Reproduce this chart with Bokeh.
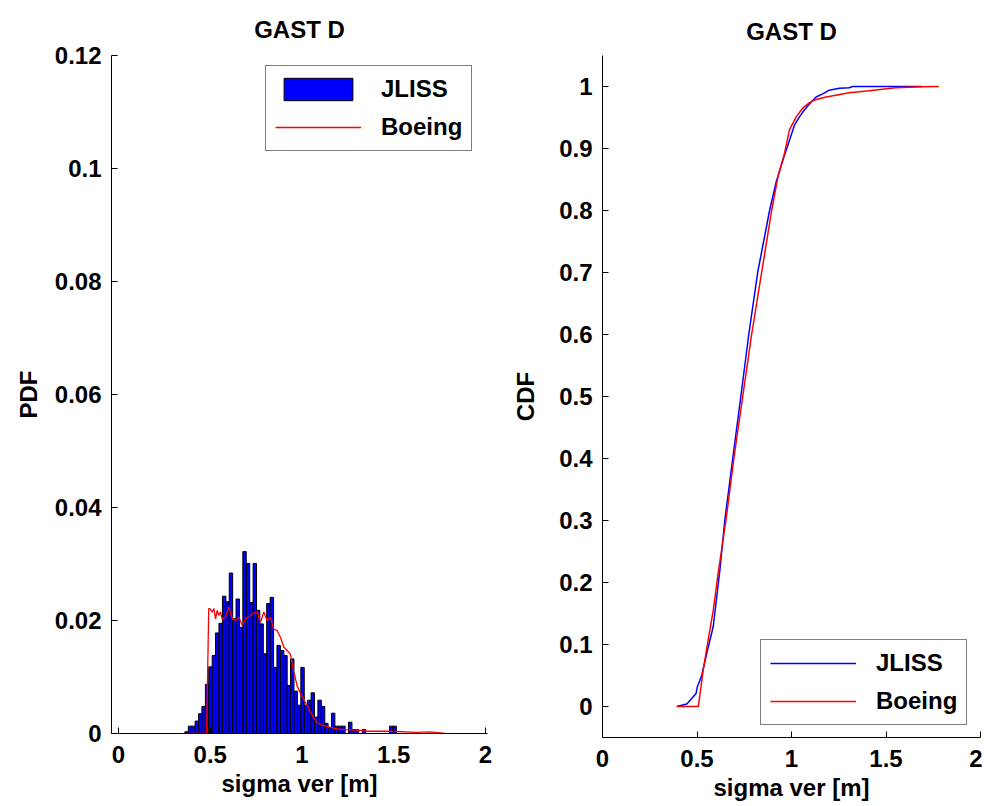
from bokeh.plotting import figure
from bokeh.models import Range1d, FixedTicker, Legend, LegendItem
from bokeh.layouts import row
from bokeh.embed import file_html
from bokeh.resources import INLINE

# ---------------- data ----------------
title_text = "GAST D"
x_label = "sigma ver [m]"

# left panel: histogram (JLISS) and PDF line (Boeing)
bin_width = 0.0186
bin_centers = [0.371, 0.390, 0.408, 0.427, 0.446, 0.464, 0.483, 0.501, 0.520, 0.538,
               0.557, 0.576, 0.594, 0.613, 0.631, 0.650, 0.669, 0.687, 0.706, 0.724,
               0.743, 0.761, 0.780, 0.799, 0.817, 0.836, 0.854, 0.873, 0.892, 0.910,
               0.929, 0.947, 0.966, 0.985, 1.003, 1.022, 1.040, 1.059, 1.077, 1.096,
               1.115, 1.133, 1.152, 1.170, 1.189, 1.207, 1.226, 1.245, 1.263, 1.282,
               1.300, 1.319, 1.338, 1.356, 1.375, 1.393, 1.412, 1.431, 1.449, 1.468,
               1.486, 1.505]
jliss_pdf = [0.0003, 0.0013, 0.0013, 0.0022, 0.0035, 0.0048, 0.0087, 0.0118, 0.0138, 0.0178,
             0.0195, 0.0243, 0.0233, 0.0284, 0.0203, 0.0238, 0.0188, 0.0322, 0.0301, 0.0232,
             0.0301, 0.0218, 0.0194, 0.0141, 0.0230, 0.0241, 0.0117, 0.0156, 0.0147, 0.0138,
             0.0085, 0.0132, 0.0075, 0.0050, 0.0117, 0.0050, 0.0059, 0.0072, 0.0029, 0.0059,
             0.0048, 0.0018, 0.0010, 0.0036, 0.0013, 0.0013, 0.0013, 0.0, 0.0020, 0.0007,
             0.0007, 0.0, 0.0007, 0.0, 0.0, 0.0, 0.0, 0.0, 0.0, 0.0,
             0.0013, 0.0013]

boeing_pdf_x = [0.365, 0.480, 0.492, 0.498, 0.511, 0.520, 0.529, 0.538, 0.547, 0.556,
                0.565, 0.583, 0.601, 0.620, 0.638, 0.656, 0.674, 0.692, 0.710, 0.729,
                0.756, 0.774, 0.792, 0.810, 0.828, 0.846, 0.865, 0.883, 0.901, 0.919,
                0.937, 0.955, 0.974, 0.992, 1.010, 1.028, 1.046, 1.064, 1.083, 1.119,
                1.155, 1.192, 1.228, 1.301, 1.355, 1.482, 1.628, 1.700, 1.780]
boeing_pdf_y = [0.0, 0.0, 0.0221, 0.0221, 0.0215, 0.0221, 0.0203, 0.0218, 0.0209, 0.0215,
                0.0203, 0.0206, 0.0224, 0.0203, 0.0200, 0.0206, 0.0191, 0.0203, 0.0206, 0.0212,
                0.0215, 0.0197, 0.0215, 0.0200, 0.0206, 0.0185, 0.0182, 0.0170, 0.0153, 0.0147,
                0.0140, 0.0110, 0.0084, 0.0071, 0.0060, 0.0050, 0.0038, 0.0028, 0.0019, 0.0014,
                0.0011, 0.0008, 0.0007, 0.0006, 0.0004, 0.0004, 0.0002, 0.0003, 0.0]

# right panel: CDFs
jliss_cdf_x = [0.393, 0.446, 0.472, 0.495, 0.502, 0.525, 0.551, 0.586, 0.621, 0.647,
               0.689, 0.732, 0.774, 0.821, 0.884, 0.919, 0.954, 0.989, 1.016, 1.042,
               1.068, 1.104, 1.130, 1.165, 1.200, 1.253, 1.305, 1.323, 1.691]
jliss_cdf_y = [0.0, 0.004, 0.013, 0.021, 0.032, 0.050, 0.085, 0.129, 0.220, 0.300,
               0.400, 0.500, 0.600, 0.700, 0.800, 0.846, 0.881, 0.913, 0.938, 0.951,
               0.962, 0.975, 0.983, 0.988, 0.994, 0.997, 0.998, 1.0, 1.0]
boeing_cdf_x = [0.393, 0.507, 0.533, 0.559, 0.586, 0.612, 0.653, 0.695, 0.742, 0.789,
                0.842, 0.895, 0.928, 0.963, 0.989, 1.025, 1.059, 1.095, 1.130, 1.183,
                1.235, 1.305, 1.411, 1.551, 1.691, 1.779]
boeing_cdf_y = [0.0, 0.0, 0.059, 0.107, 0.155, 0.215, 0.300, 0.400, 0.500, 0.600,
                0.700, 0.800, 0.854, 0.892, 0.930, 0.951, 0.965, 0.974, 0.979, 0.983,
                0.986, 0.990, 0.993, 0.998, 0.9995, 1.0]

# ticks
pdf_x_ticks = [0, 0.5, 1, 1.5, 2]
pdf_x_labels = ["0", "0.5", "1", "1.5", "2"]
pdf_y_ticks = [0, 0.02, 0.04, 0.06, 0.08, 0.1, 0.12]
pdf_y_labels = ["0", "0.02", "0.04", "0.06", "0.08", "0.1", "0.12"]
cdf_x_ticks = [0, 0.5, 1, 1.5, 2]
cdf_x_labels = ["0", "0.5", "1", "1.5", "2"]
cdf_y_ticks = [0, 0.1, 0.2, 0.3, 0.4, 0.5, 0.6, 0.7, 0.8, 0.9, 1]
cdf_y_labels = ["0", "0.1", "0.2", "0.3", "0.4", "0.5", "0.6", "0.7", "0.8", "0.9", "1"]

# ---------------- styling ----------------
FONT = "Liberation Sans"
FS = "24px"


def style(p, xt, xl, yt, yl, xlab, ylab, ylab_standoff, title_standoff):
    p.title.text_font = FONT
    p.title.text_font_size = FS
    p.title.text_font_style = "bold"
    p.title.text_color = "black"
    p.title.align = "center"
    p.title.standoff = title_standoff
    p.grid.visible = False
    p.outline_line_color = None
    p.background_fill_color = "white"
    p.border_fill_color = "white"
    p.xaxis.ticker = FixedTicker(ticks=xt)
    p.xaxis.major_label_overrides = {t: l for t, l in zip(xt, xl)}
    p.yaxis.ticker = FixedTicker(ticks=yt)
    p.yaxis.major_label_overrides = {t: l for t, l in zip(yt, yl)}
    p.xaxis.axis_label = xlab
    p.yaxis.axis_label = ylab
    for ax in (p.xaxis, p.yaxis):
        ax.axis_line_color = "black"
        ax.axis_line_width = 1
        ax.major_tick_line_color = "black"
        ax.major_tick_in = 6
        ax.major_tick_out = 0
        ax.minor_tick_line_color = None
        ax.major_label_text_font = FONT
        ax.major_label_text_font_size = FS
        ax.major_label_text_font_style = "bold"
        ax.major_label_text_color = "black"
        ax.axis_label_text_font = FONT
        ax.axis_label_text_font_size = FS
        ax.axis_label_text_font_style = "bold"
        ax.axis_label_text_color = "black"
    p.xaxis.major_label_standoff = 12
    p.xaxis.axis_label_standoff = 4
    p.yaxis.major_label_standoff = 10
    p.yaxis.axis_label_standoff = ylab_standoff


def legend(p, items, loc):
    lg = Legend(items=items, location=loc)
    lg.label_text_font = FONT
    lg.label_text_font_size = FS
    lg.label_text_font_style = "bold"
    lg.label_text_color = "black"
    lg.border_line_color = "black"
    lg.border_line_width = 1
    lg.background_fill_color = "white"
    lg.background_fill_alpha = 1
    lg.glyph_width = 86
    lg.glyph_height = 28
    lg.label_height = 28
    lg.label_standoff = 20
    lg.spacing = 10
    lg.padding = 9
    lg.margin = 0
    p.add_layout(lg, "center")


# ---------------- left: PDF ----------------
p1 = figure(output_backend="svg", toolbar_location=None, title=title_text,
            frame_width=376, frame_height=678,
            min_border_left=111, min_border_right=16, min_border_top=55, min_border_bottom=72,
            x_range=Range1d(-0.038, 2.011), y_range=Range1d(0, 0.12))
bars = p1.vbar(x=bin_centers, width=bin_width, top=jliss_pdf, bottom=0,
               fill_color="#0000FF", line_color="black", line_width=1)
pdf_line = p1.line(boeing_pdf_x, boeing_pdf_y, line_color="#FF0000", line_width=1.3)
style(p1, pdf_x_ticks, pdf_x_labels, pdf_y_ticks, pdf_y_labels, x_label, "PDF", 10, 25)
legend(p1, [LegendItem(label="JLISS", renderers=[bars]),
            LegendItem(label="Boeing", renderers=[pdf_line])], (154, 582))

# ---------------- right: CDF ----------------
p2 = figure(output_backend="svg", toolbar_location=None, title=title_text,
            frame_width=378, frame_height=682,
            min_border_left=99, min_border_right=2, min_border_top=52, min_border_bottom=71,
            x_range=Range1d(0, 2), y_range=Range1d(-0.05, 1.05))
jl = p2.line(jliss_cdf_x, jliss_cdf_y, line_color="#0000FF", line_width=1.5)
bo = p2.line(boeing_cdf_x, boeing_cdf_y, line_color="#FF0000", line_width=1.5)
style(p2, cdf_x_ticks, cdf_x_labels, cdf_y_ticks, cdf_y_labels, x_label, "CDF", 17, 22)
legend(p2, [LegendItem(label="JLISS", renderers=[jl]),
            LegendItem(label="Boeing", renderers=[bo])], (158, 12))

layout = row(p1, p2, spacing=0)
open("out.html", "w").write(file_html(layout, INLINE))
